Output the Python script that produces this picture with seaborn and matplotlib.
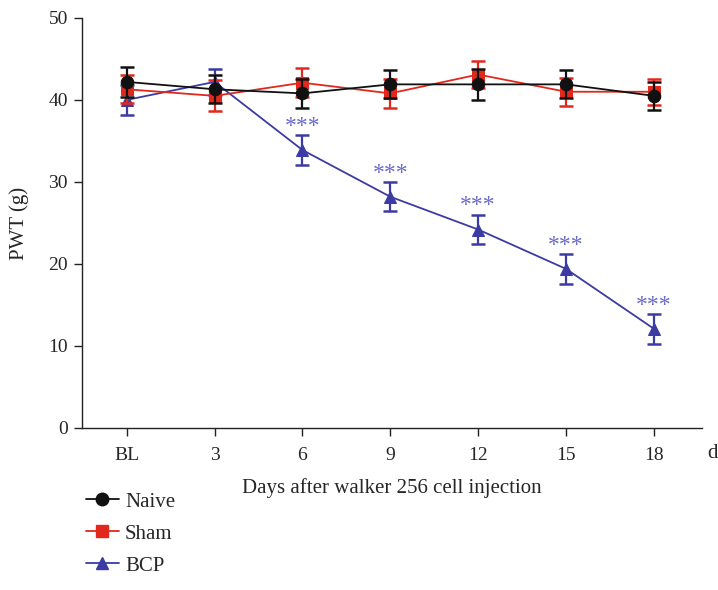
import numpy as np
import pandas as pd
import matplotlib
matplotlib.use("Agg")
import matplotlib.pyplot as plt
import seaborn as sns
from matplotlib.lines import Line2D

days = ["BL", "3", "6", "9", "12", "15", "18"]
naive = [42.2, 41.3, 40.8, 41.9, 41.9, 41.9, 40.5]
naive_err = [1.8, 1.7, 1.8, 1.7, 1.9, 1.7, 1.7]
sham = [41.3, 40.5, 42.1, 40.8, 43.1, 41.0, 41.0]
sham_err = [1.7, 1.9, 1.8, 1.8, 1.7, 1.7, 1.6]
bcp = [40.0, 42.2, 33.9, 28.2, 24.2, 19.4, 12.1]
bcp_err = [1.8, 1.6, 1.8, 1.8, 1.8, 1.8, 1.8]
sig = ["", "", "***", "***", "***", "***", "***"]

sns.set_theme(style="ticks")
plt.rcParams['font.family'] = ['Liberation Serif', 'DejaVu Serif']

fig = plt.figure(figsize=(7.18, 5.9), dpi=100)
ax = fig.add_axes([0.114, 0.2746, 0.864, 0.695])

groups = [
    ("BCP", bcp, bcp_err, "#3b3ba3", "^", 8),
    ("Sham", sham, sham_err, "#e2281c", "s", 8),
    ("Naive", naive, naive_err, "#111111", "o", 9),
]
x = np.arange(len(days))
for name, vals, errs, col, mk, ms in groups:
    df = pd.DataFrame({"x": x, "y": vals})
    sns.lineplot(data=df, x="x", y="y", ax=ax, color=col, marker=mk,
                 markersize=ms, markeredgecolor=col, linewidth=1.3, zorder=3)
    ax.errorbar(x, vals, yerr=errs, fmt="none", ecolor=col, elinewidth=1.6,
                capsize=5, capthick=1.8, zorder=3)

for xi, v, e, s in zip(x, bcp, bcp_err, sig):
    if s:
        ax.text(xi, v + e - 0.2, s, ha="center", va="bottom", color="#6a6acb",
                fontsize=17)

ax.set_xlim(-0.51, 6.55)
ax.set_ylim(0, 50)
ax.set_yticks([0, 10, 20, 30, 40, 50])
ax.set_xticks(x)
ax.set_xticklabels(days)
ax.tick_params(axis="both", labelsize=14, length=6, width=1, direction="out",
               color="#222222", pad=8)
ax.tick_params(axis="y", pad=4)
for s in ["top", "right"]:
    ax.spines[s].set_visible(False)
for s in ["left", "bottom"]:
    ax.spines[s].set_color("#222222")
    ax.spines[s].set_linewidth(1.0)
ax.set_xlabel("Days after walker 256 cell injection", fontsize=15, labelpad=10)
ax.set_ylabel("PWT (g)", fontsize=15, labelpad=14)
ax.text(1.008, -0.062, "d", transform=ax.transAxes, fontsize=15, ha="left", va="center")

handles = [
    Line2D([], [], color="#111111", marker="o", markersize=9, linewidth=1.3),
    Line2D([], [], color="#e2281c", marker="s", markersize=8, linewidth=1.3),
    Line2D([], [], color="#3b3ba3", marker="^", markersize=8, linewidth=1.3),
]
fig.legend(handles, ["Naive", "Sham", "BCP"], loc="upper left",
           bbox_to_anchor=(0.093, 0.198), frameon=False, fontsize=15,
           handlelength=1.6, handletextpad=0.3, labelspacing=0.6)

fig.savefig("out.png", dpi=100)
